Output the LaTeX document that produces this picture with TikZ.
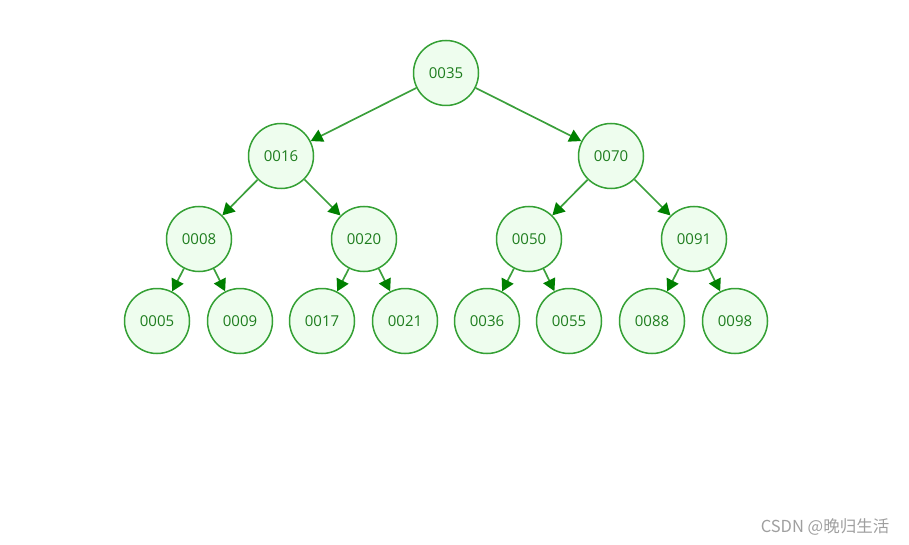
\documentclass[tikz,border=0pt]{standalone}
\usepackage{fontspec}
\setmainfont{Open Sans}
\newfontfamily\cjk{Noto Sans CJK SC}
\usetikzlibrary{arrows.meta}
\definecolor{nodefill}{RGB}{238,253,238}
\definecolor{nodeline}{RGB}{52,160,52}
\definecolor{txtgreen}{RGB}{30,125,30}
\definecolor{edgecol}{RGB}{60,160,60}
\definecolor{tipcol}{RGB}{0,128,0}
\tikzset{
  tnode/.style={circle, draw=nodeline, fill=nodefill, line width=1.5pt, minimum size=65pt, inner sep=0pt, text=txtgreen, font=\fontsize{15}{17}\selectfont},
  tedge/.style={draw=edgecol, line width=1.7pt, -{Triangle[length=12pt,width=13pt,color=tipcol,fill=tipcol]}},
}
\begin{document}
\begin{tikzpicture}[x=1pt,y=-1pt]
\useasboundingbox (0,0) rectangle (909,545);
\node[tnode] (n35) at (446,73) {0035};
\node[tnode] (n16) at (281,156) {0016};
\node[tnode] (n70) at (611,156) {0070};
\node[tnode] (n08) at (199,239) {0008};
\node[tnode] (n20) at (364,239) {0020};
\node[tnode] (n50) at (529,239) {0050};
\node[tnode] (n91) at (694,239) {0091};
\node[tnode] (n05) at (157,321) {0005};
\node[tnode] (n09) at (240,321) {0009};
\node[tnode] (n17) at (322,321) {0017};
\node[tnode] (n21) at (405,321) {0021};
\node[tnode] (n36) at (487,321) {0036};
\node[tnode] (n55) at (569,321) {0055};
\node[tnode] (n88) at (652,321) {0088};
\node[tnode] (n98) at (735,321) {0098};
\foreach \a/\b in {n35/n16,n35/n70,n16/n08,n16/n20,n70/n50,n70/n91,n08/n05,n08/n09,n20/n17,n20/n21,n50/n36,n50/n55,n91/n88,n91/n98}
  \draw[tedge] (\a) -- (\b);
\node[text=gray!75, font=\cjk\fontsize{16.5}{18}\selectfont] (wm) at (825,527) {CSDN @晚归生活};
\end{tikzpicture}
\end{document}
